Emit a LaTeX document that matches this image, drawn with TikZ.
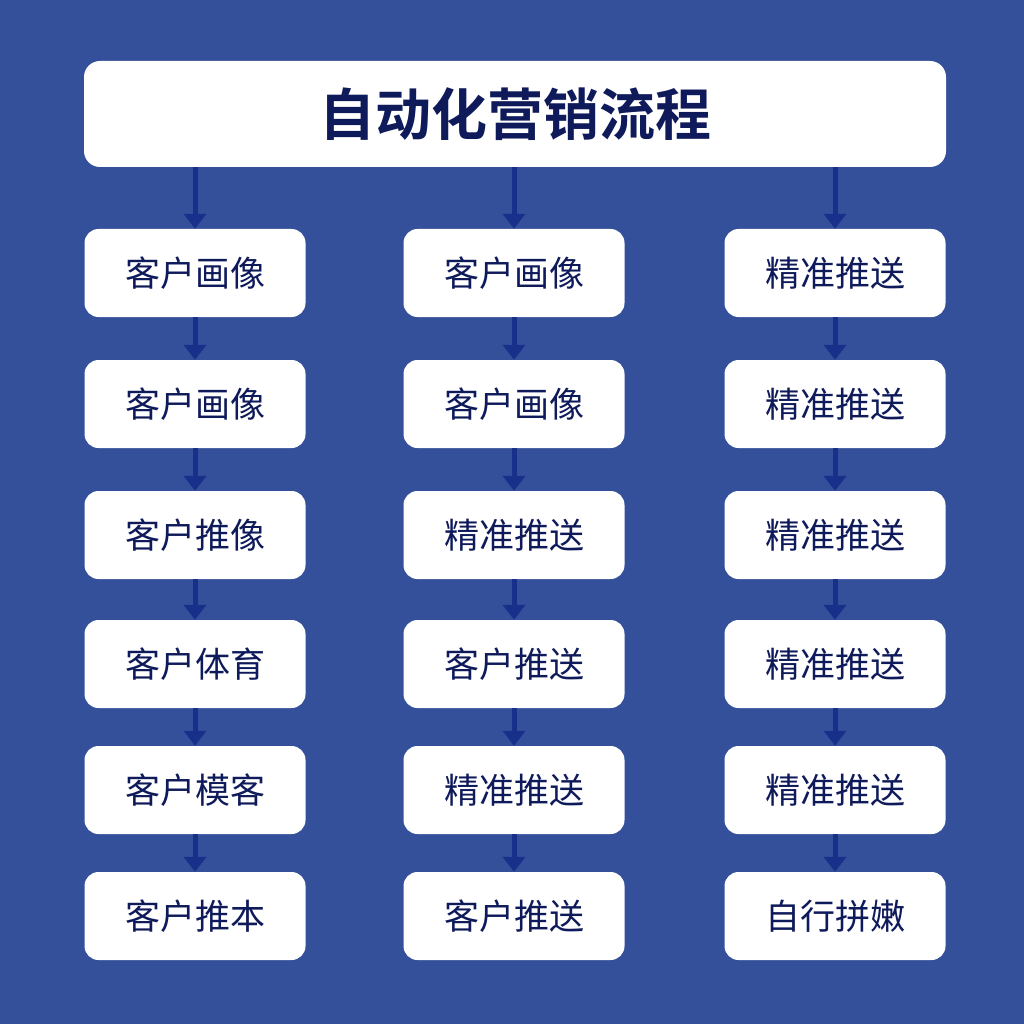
\documentclass[tikz,border=0pt]{standalone}
\usepackage{fontspec}
\newfontfamily\cjk{Noto Sans CJK SC}
\newfontfamily\cjkbold{Noto Sans CJK SC Bold}
\usetikzlibrary{arrows.meta}
\definecolor{bgblue}{RGB}{52,80,155}
\definecolor{arrowblue}{RGB}{24,48,138}
\definecolor{inkblue}{RGB}{14,26,90}

\begin{document}
\begin{tikzpicture}[x=1pt,y=-1pt,
  stepbox/.style={draw=none,fill=white,rounded corners=14pt,minimum width=221pt,minimum height=88pt,inner sep=0pt,text=inkblue,font=\cjk\fontsize{35}{40}\selectfont},
  titlebox/.style={stepbox,rounded corners=16pt,minimum width=862pt,minimum height=106pt,font=\cjkbold\fontsize{56}{62}\selectfont},
  flow/.style={draw=arrowblue,line width=5pt,-{Triangle[width=22pt,length=15pt]},shorten >=0pt}]

% Background
\fill[bgblue] (0,0) rectangle (1024,1024);
\useasboundingbox (0,0) rectangle (1024,1024);

% Title
\node[titlebox] (title) at (515,114) {自动化营销流程};

% Left column
\node[stepbox] (a1) at (195,273) {客户画像};
\node[stepbox] (a2) at (195,404) {客户画像};
\node[stepbox] (a3) at (195,535) {客户推像};
\node[stepbox] (a4) at (195,664) {客户体育};
\node[stepbox] (a5) at (195,790) {客户模客};
\node[stepbox] (a6) at (195,916) {客户推本};

% Middle column
\node[stepbox] (b1) at (514,273) {客户画像};
\node[stepbox] (b2) at (514,404) {客户画像};
\node[stepbox] (b3) at (514,535) {精准推送};
\node[stepbox] (b4) at (514,664) {客户推送};
\node[stepbox] (b5) at (514,790) {精准推送};
\node[stepbox] (b6) at (514,916) {客户推送};

% Right column
\node[stepbox] (c1) at (835,273) {精准推送};
\node[stepbox] (c2) at (835,404) {精准推送};
\node[stepbox] (c3) at (835,535) {精准推送};
\node[stepbox] (c4) at (835,664) {精准推送};
\node[stepbox] (c5) at (835,790) {精准推送};
\node[stepbox] (c6) at (835,916) {自行拼嫩};

% Arrows from title
\draw[flow] (title.south -| a1.north) -- (a1.north);
\draw[flow] (title.south -| b1.north) -- (b1.north);
\draw[flow] (title.south -| c1.north) -- (c1.north);

% Arrows down the columns
\draw[flow] (a1) -- (a2);
\draw[flow] (a2) -- (a3);
\draw[flow] (a3) -- (a4);
\draw[flow] (a4) -- (a5);
\draw[flow] (a5) -- (a6);

\draw[flow] (b1) -- (b2);
\draw[flow] (b2) -- (b3);
\draw[flow] (b3) -- (b4);
\draw[flow] (b4) -- (b5);
\draw[flow] (b5) -- (b6);

\draw[flow] (c1) -- (c2);
\draw[flow] (c2) -- (c3);
\draw[flow] (c3) -- (c4);
\draw[flow] (c4) -- (c5);
\draw[flow] (c5) -- (c6);

\end{tikzpicture}
\end{document}
